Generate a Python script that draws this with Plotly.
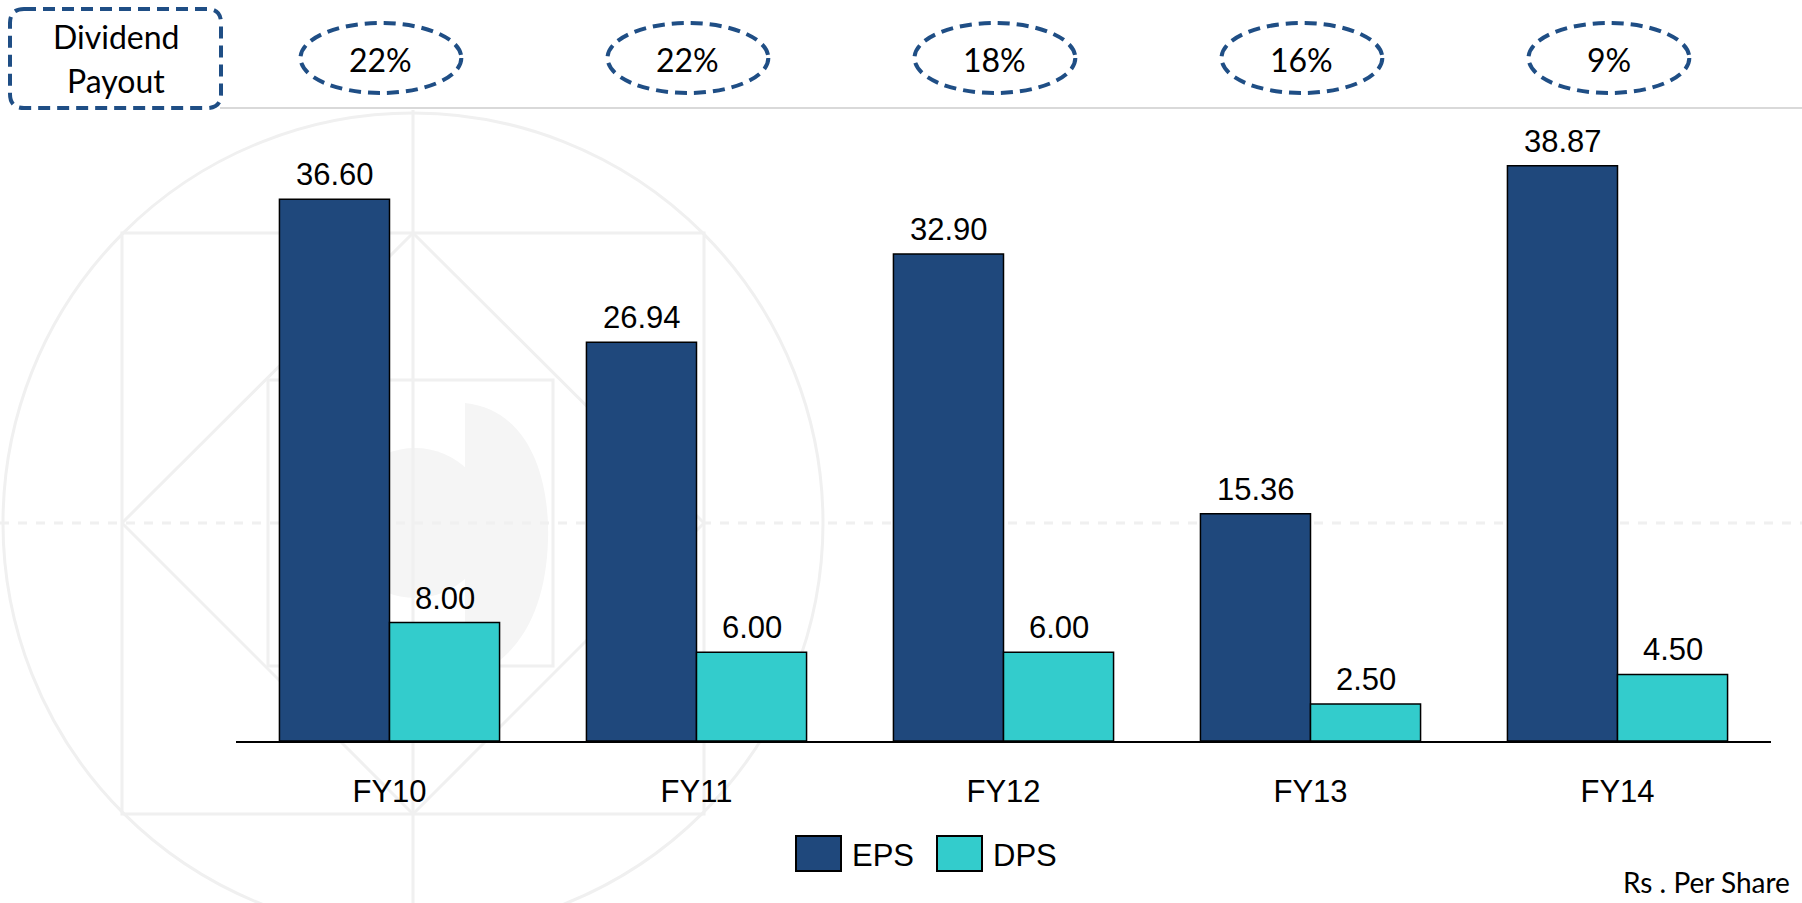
import plotly.graph_objects as go

categories = ["FY10", "FY11", "FY12", "FY13", "FY14"]
eps = [36.60, 26.94, 32.90, 15.36, 38.87]
dps = [8.00, 6.00, 6.00, 2.50, 4.50]
payout = ["22%", "22%", "18%", "16%", "9%"]

EPS_COLOR = "#1F487C"
DPS_COLOR = "#33CCCC"
NAVY = "#1F4E85"
WM = "#f0f0f0"
WMFILL = "#f5f5f5"

W, H = 1802, 903
L, R, T, B = 236, 31, 149, 162
PW = W - L - R
PH = H - T - B


def px(x):
    return (x - L) / PW


def py(y):
    return (H - B - y) / PH


fig = go.Figure()
fig.add_trace(go.Bar(name="EPS", x=categories, y=eps, marker=dict(color=EPS_COLOR, line=dict(color="black", width=1.5))))
fig.add_trace(go.Bar(name="DPS", x=categories, y=dps, marker=dict(color=DPS_COLOR, line=dict(color="black", width=1.5))))

shapes = []
annotations = []


def ann(x, y, text, size, family="Lato", xanchor="center", yanchor="middle"):
    annotations.append(dict(x=px(x), y=py(y), xref="paper", yref="paper", text=text, showarrow=False,
                            xanchor=xanchor, yanchor=yanchor, font=dict(family=family, size=size, color="black")))


# watermark (decorative)
def wline(x0, y0, x1, y1, dash="solid"):
    shapes.append(dict(type="line", xref="paper", yref="paper", x0=px(x0), y0=py(y0), x1=px(x1), y1=py(y1),
                       line=dict(color=WM, width=3, dash=dash), layer="below"))


cx, cy, r = 413, 523, 410
shapes.append(dict(type="circle", xref="paper", yref="paper", x0=px(cx - r), x1=px(cx + r), y0=py(cy - r), y1=py(cy + r),
                   line=dict(color=WM, width=3), layer="below"))
shapes.append(dict(type="path", xref="paper", yref="paper",
                   path=(f"M{px(465)},{py(403)} C{px(530)},{py(410)} {px(550)},{py(480)} {px(548)},{py(540)} "
                         f"C{px(546)},{py(610)} {px(520)},{py(660)} {px(465)},{py(680)} Z"),
                   fillcolor=WMFILL, line=dict(width=0), layer="below"))
shapes.append(dict(type="circle", xref="paper", yref="paper", x0=px(340), x1=px(490), y0=py(448), y1=py(598),
                   fillcolor=WMFILL, line=dict(width=0), layer="below"))
shapes.append(dict(type="rect", xref="paper", yref="paper", x0=px(122), x1=px(704), y0=py(233), y1=py(814),
                   line=dict(color=WM, width=3), layer="below"))
shapes.append(dict(type="rect", xref="paper", yref="paper", x0=px(268), x1=px(553), y0=py(380), y1=py(666),
                   line=dict(color=WM, width=3), layer="below"))
wline(122, 523, 413, 233)
wline(413, 233, 704, 523)
wline(704, 523, 413, 814)
wline(413, 814, 122, 523)
wline(0, 523, 1802, 523, dash="dash")
wline(413, 110, 413, 903)

# top divider
shapes.append(dict(type="line", xref="paper", yref="paper", x0=px(220), x1=px(1802), y0=py(108), y1=py(108),
                   line=dict(color="#d9d9d9", width=2)))

# Dividend payout box (rounded rect)
bx0, bx1, by0, by1, rr = 10, 221, 9, 108, 14
rx, ry = rr / PW, rr / PH
X0, X1, Y0, Y1 = px(bx0), px(bx1), py(by0), py(by1)
path = (f"M{X0+rx},{Y0} L{X1-rx},{Y0} Q{X1},{Y0} {X1},{Y0-ry} L{X1},{Y1+ry} Q{X1},{Y1} {X1-rx},{Y1} "
        f"L{X0+rx},{Y1} Q{X0},{Y1} {X0},{Y1+ry} L{X0},{Y0-ry} Q{X0},{Y0} {X0+rx},{Y0} Z")
shapes.append(dict(type="path", xref="paper", yref="paper", path=path,
                   line=dict(color=NAVY, width=4, dash="12px,7px")))
ann(116, 36, "Dividend", 32)
ann(116, 81, "Payout", 32)

# payout ellipses
for i, p in enumerate(payout):
    c = i - 0.028
    shapes.append(dict(type="circle", xref="x", yref="paper", x0=c - 0.262, x1=c + 0.262, y0=py(23), y1=py(93),
                       line=dict(color=NAVY, width=4, dash="12px,7px")))
    annotations.append(dict(x=c, y=py(59), xref="x", yref="paper", text=p, showarrow=False,
                            xanchor="center", yanchor="middle",
                            font=dict(family="Lato", size=32, color="black")))

# bar value labels
for series, shift in [(eps, -55), (dps, 55)]:
    for cat, v in zip(categories, series):
        annotations.append(dict(x=cat, y=v, xref="x", yref="y", text=f"{v:.2f}", showarrow=False, xshift=shift,
                                xanchor="center", yanchor="bottom", yshift=5,
                                font=dict(family="Liberation Sans", size=31, color="black")))

# custom legend
for sx, name, col in [(796, "EPS", EPS_COLOR), (937, "DPS", DPS_COLOR)]:
    shapes.append(dict(type="rect", xref="paper", yref="paper", x0=px(sx), x1=px(sx + 45), y0=py(836), y1=py(871),
                       fillcolor=col, line=dict(color="black", width=2)))
    ann(sx + 54, 855, name, 31, family="Liberation Sans", xanchor="left")

ann(1792, 882, "Rs . Per Share", 28, xanchor="right")

fig.update_layout(
    width=W, height=H,
    margin=dict(l=L, r=R, t=T, b=B),
    barmode="group", bargap=0.283, bargroupgap=0,
    showlegend=False,
    paper_bgcolor="white", plot_bgcolor="rgba(0,0,0,0)",
    shapes=shapes, annotations=annotations,
    xaxis=dict(showline=True, linecolor="black", linewidth=2, ticks="", showgrid=False,
               tickfont=dict(family="Liberation Sans", size=31, color="black"), ticklabelstandoff=22),
    yaxis=dict(range=[0, 40], visible=False, showgrid=False, zeroline=False),
)

fig.write_html("out.html", config={"displayModeBar": False},
               post_script="document.body.style.margin='0';document.body.style.overflow='hidden';")
